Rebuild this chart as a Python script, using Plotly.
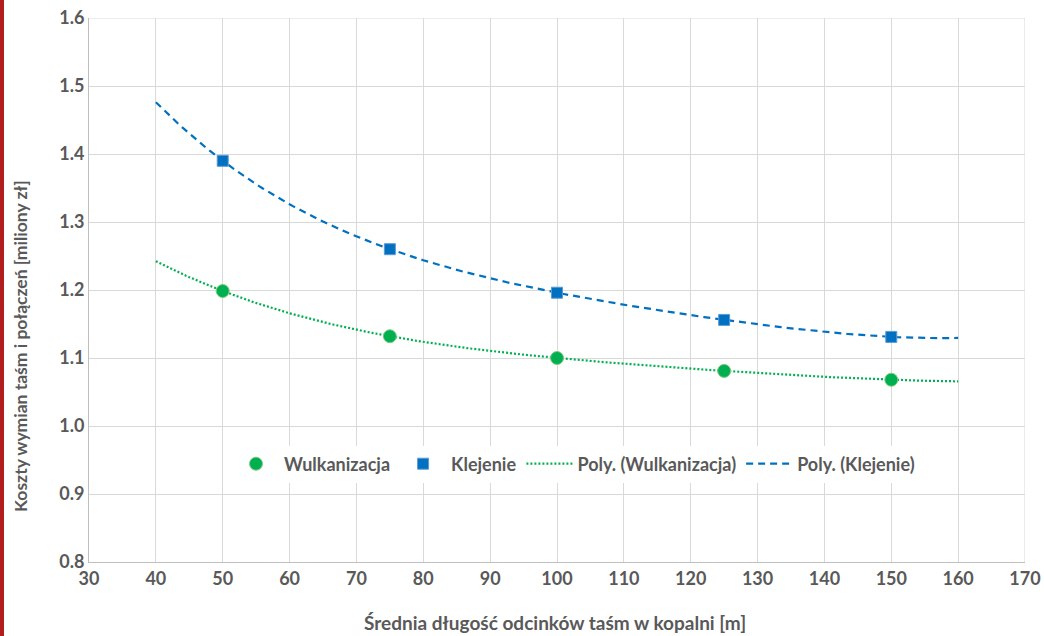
import numpy as np
import plotly.graph_objects as go

# Average belt section length in the mine [m]
lengths = [50, 75, 100, 125, 150]
# Replacement costs of belts and joints [million PLN]
wulkanizacja = [1.1985, 1.132, 1.100, 1.081, 1.068]
klejenie = [1.390, 1.260, 1.196, 1.156, 1.131]

trend_range = (40, 160)
x_ticks = [30, 40, 50, 60, 70, 80, 90, 100, 110, 120, 130, 140, 150, 160, 170]
y_ticks = [0.8, 0.9, 1.0, 1.1, 1.2, 1.3, 1.4, 1.5, 1.6]

GREEN = "#00B050"
BLUE = "#0070C0"
TEXT = "#595959"
GRID = "#D9D9D9"
FONT = "Lato"

# plot area in pixels
W, H = 1044, 636
ML, MR, MT, MB = 89, 19, 18, 74
PW, PH = W - ML - MR, H - MT - MB


def poly_trend(x, y, order=4, n=241):
    """Polynomial trendline (least squares) evaluated over trend_range."""
    xs = np.asarray(x, dtype=float)
    xc = (xs - 100.0) / 25.0
    coef = np.polyfit(xc, np.asarray(y, dtype=float), order)
    xt = np.linspace(trend_range[0], trend_range[1], n)
    return xt, np.polyval(coef, (xt - 100.0) / 25.0)


xw, yw = poly_trend(lengths, wulkanizacja)
xk, yk = poly_trend(lengths, klejenie)

fig = go.Figure()

fig.add_trace(go.Scatter(
    x=xk, y=yk, mode="lines", name="Poly. (Klejenie)",
    line=dict(color=BLUE, width=2.2, dash="7px,5px"),
    legendrank=4,
))
fig.add_trace(go.Scatter(
    x=xw, y=yw, mode="lines", name="Poly. (Wulkanizacja)",
    line=dict(color=GREEN, width=2.2, dash="2px,2px"),
    legendrank=3,
))
fig.add_trace(go.Scatter(
    x=lengths, y=wulkanizacja, mode="markers", name="Wulkanizacja",
    marker=dict(symbol="circle", size=13, color=GREEN,
                line=dict(color="#7FC97F", width=1)),
    legendrank=1,
))
fig.add_trace(go.Scatter(
    x=lengths, y=klejenie, mode="markers", name="Klejenie",
    marker=dict(symbol="square", size=11, color=BLUE,
                line=dict(color="#5B9BD5", width=1)),
    legendrank=2,
))

tick_font = dict(family=FONT, size=18, color=TEXT, weight="bold")

fig.update_xaxes(
    range=[30, 170], tickvals=x_ticks, ticktext=[str(v) for v in x_ticks],
    showgrid=True, gridcolor=GRID, gridwidth=1,
    showline=True, linecolor="#BFBFBF", linewidth=1,
    zeroline=False, ticks="", ticklen=0, automargin=False,
    tickfont=tick_font,
)
fig.update_yaxes(
    range=[0.8, 1.6], tickvals=y_ticks, ticktext=[f"{v:.1f}" for v in y_ticks],
    showgrid=True, gridcolor=GRID, gridwidth=1,
    showline=True, linecolor="#BFBFBF", linewidth=1,
    zeroline=False, ticks="", ticklen=0, automargin=False,
    tickfont=tick_font,
)

# axis titles
fig.add_annotation(
    text="Średnia długość odcinków taśm w kopalni [m]",
    xref="paper", yref="paper", x=(555 - ML) / PW, y=-(622 - (H - MB)) / PH,
    xanchor="center", yanchor="middle", showarrow=False,
    font=dict(family=FONT, size=19, color=TEXT, weight="bold"),
)
fig.add_annotation(
    text="Koszty wymian taśm i połączeń [miliony zł]",
    xref="paper", yref="paper", x=(20 - ML) / PW, y=((H - MB) - 346) / PH,
    xanchor="center", yanchor="middle", textangle=-90, showarrow=False,
    font=dict(family=FONT, size=17.5, color=TEXT, weight="bold"),
)

# grid lines along the right and top edges of the plot area
fig.add_shape(type="line", xref="x", yref="paper", x0=170, x1=170, y0=0, y1=1,
              line=dict(color=GRID, width=1), layer="below")
fig.add_shape(type="line", xref="paper", yref="y", x0=0, x1=1, y0=1.6, y1=1.6,
              line=dict(color=GRID, width=1), layer="below")

# dark red page border strip on the left edge
fig.add_shape(type="rect", xref="paper", yref="paper",
              x0=-ML / PW, x1=(4 - ML) / PW, y0=-MB / PH, y1=(H - MB) / PH,
              line=dict(width=0), fillcolor="#B21E1E")

fig.update_layout(
    width=W, height=H,
    margin=dict(l=ML, r=MR, t=MT, b=MB, autoexpand=False),
    paper_bgcolor="white", plot_bgcolor="white",
    font=dict(family=FONT, color=TEXT),
    showlegend=True,
    legend=dict(
        orientation="h", x=(574 - ML) / PW, xanchor="center",
        y=((H - MB) - 464) / PH, yanchor="middle",
        bgcolor="white", font=dict(family=FONT, size=18, color=TEXT, weight="bold"),
        traceorder="normal", itemwidth=46,
    ),
)

fig.write_html("out.html")
